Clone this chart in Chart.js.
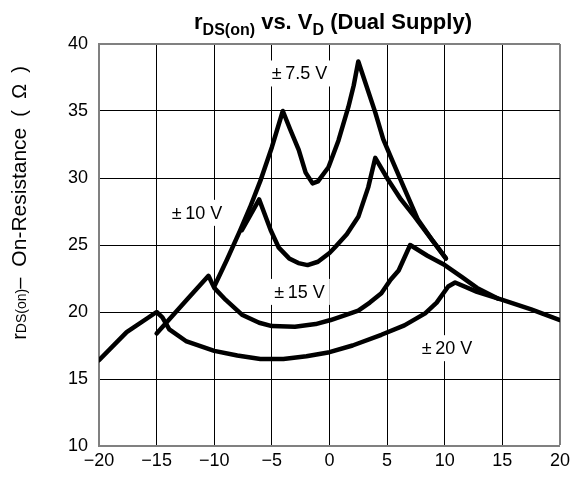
<!DOCTYPE html>
<html>
<head>
<meta charset="utf-8">
<script src="https://cdn.jsdelivr.net/npm/chart.js@4.4.0/dist/chart.umd.min.js"></script>
<style>
html, body { margin: 0; padding: 0; background: #fff; }
</style>
</head>
<body>
<canvas id="myChart" width="574" height="482"></canvas>
<script>
// axis ticks
var xTicks = [-20, -15, -10, -5, 0, 5, 10, 15, 20];
var xTickLabels = ['\u221220', '\u221215', '\u221210', '\u22125', '0', '5', '10', '15', '20'];
var yTicks = [10, 15, 20, 25, 30, 35, 40];

// +-20 V supply
var x20 = [-20, -17.6, -15, -14.5, -13.9, -12.4, -10, -8, -6, -4, -2, 0, 2, 4.5, 6.5, 8.3, 9.3, 10.3, 10.9, 12.8, 15, 17.5, 20];
var y20 = [16.4, 18.5, 20.0, 19.6, 18.7, 17.8, 17.1, 16.75, 16.5, 16.5, 16.7, 17.0, 17.5, 18.3, 19.0, 19.9, 20.7, 21.9, 22.2, 21.5, 20.9, 20.2, 19.4];

// +-15 V supply
var x15 = [-15, -12.4, -10.5, -10, -9, -7.6, -6.1, -5, -3, -1.2, 0.1, 1.5, 2.5, 3.5, 4.5, 5.3, 6, 7, 8.5, 10, 11.5, 12.8, 14.6];
var y15 = [18.4, 20.9, 22.7, 21.8, 20.9, 19.8, 19.2, 18.95, 18.9, 19.1, 19.4, 19.8, 20.1, 20.7, 21.4, 22.4, 23.1, 25.0, 24.2, 23.5, 22.6, 21.8, 21.0];

// +-10 V supply
var x10 = [-7.6, -6.1, -5.1, -4.4, -3.5, -2.7, -1.9, -1, 0, 0.5, 1.5, 2.5, 3.36, 3.97, 5.1, 6.2, 7.4, 8.7, 10.1];
var y10 = [26.1, 28.4, 26.1, 24.8, 24.0, 23.65, 23.5, 23.75, 24.4, 24.85, 25.8, 27.1, 29.3, 31.5, 29.85, 28.4, 27.1, 25.6, 24.0];

// +-7.5 V supply
var x75 = [-10, -8.9, -7.8, -6.9, -5.95, -5.0, -4.05, -3.4, -2.67, -2.07, -1.47, -1.0, -0.09, 0.78, 1.64, 2.1, 2.5, 3.97, 4.66, 5.5, 6.5, 7.67, 8.8, 10.1];
var y75 = [21.9, 23.9, 26.0, 27.8, 29.9, 32.3, 35.0, 33.6, 32.1, 30.4, 29.6, 29.75, 30.8, 32.8, 35.3, 36.9, 38.7, 34.9, 32.9, 31.2, 29.2, 26.9, 25.5, 24.0];

// curve labels
var curveLabels = ['\u00b1\u20097.5 V', '\u00b1\u200910 V', '\u00b1\u200915 V', '\u00b1\u200920 V'];
var labelX = [-2.6, -11.5, -2.6, 10.2];
var labelY = [37.8, 27.4, 21.5, 17.3];

function pts(xs, ys) {
    return xs.map(function (v, i) { return { x: v, y: ys[i] }; });
}

function curve(xs, ys) {
    return {
        data: pts(xs, ys),
        showLine: true,
        borderColor: '#000',
        borderWidth: 4.5,
        pointRadius: 0,
        tension: 0,
        borderJoinStyle: 'round',
        borderCapStyle: 'round',
        fill: false
    };
}

var FONT = '"Liberation Sans", Arial, Helvetica, sans-serif';
Chart.defaults.font.family = FONT;
Chart.defaults.color = '#000';

// curve names on white boxes, under the curves
var curveText = {
    id: 'curveText',
    beforeDatasetsDraw: function (chart) {
        var c = chart.ctx, xs = chart.scales.x, ys = chart.scales.y;
        c.save();
        c.font = '18px ' + FONT;
        c.textAlign = 'center';
        c.textBaseline = 'middle';
        for (var i = 0; i < curveLabels.length; i++) {
            var px = xs.getPixelForValue(labelX[i]);
            var py = ys.getPixelForValue(labelY[i]);
            var w = c.measureText(curveLabels[i]).width;
            c.fillStyle = '#fff';
            c.fillRect(px - w / 2 - 5, py - 13, w + 10, 26);
            c.fillStyle = '#000';
            c.fillText(curveLabels[i], px, py + 1);
        }
        c.restore();
    }
};

function richText(c, parts, x0, y) {
    var total = 0;
    parts.forEach(function (p) { c.font = p[1]; total += c.measureText(p[0]).width; });
    var x = x0 - total / 2;
    parts.forEach(function (p) {
        c.font = p[1];
        c.fillText(p[0], x, y + p[2]);
        x += c.measureText(p[0]).width;
    });
}

var titles = {
    id: 'titles',
    afterDraw: function (chart) {
        var c = chart.ctx;
        c.save();
        c.fillStyle = '#000';
        c.textAlign = 'left';
        c.textBaseline = 'alphabetic';
        var big = 'bold 22px ' + FONT, small = 'bold 16px ' + FONT;
        richText(c, [['r', big, 0], ['DS(on)', small, 6], [' vs. V', big, 0], ['D', small, 6], [' (Dual Supply)', big, 0]],
            333, 29);

        c.translate(26, 203);
        c.rotate(-Math.PI / 2);
        var f20 = '20px ' + FONT;
        richText(c, [['r', f20, 0], ['DS(on)', '14px ' + FONT, 0], ['\u2013  ', f20, 0],
            ['On-Resistance', '21px ' + FONT, 0], ['  (  \u03a9  )', f20, 0]], 0, 0);
        c.restore();
    }
};

function edgeColor(ctx, edge) {
    return ctx.tick && ctx.tick.value === edge ? '#808080' : '#000';
}
function edgeWidth(ctx, edge) {
    return ctx.tick && ctx.tick.value === edge ? 2 : 1;
}

var myChart = new Chart('myChart', {
    type: 'scatter',
    data: {
        datasets: [curve(x20, y20), curve(x15, y15), curve(x10, y10), curve(x75, y75)]
    },
    options: {
        responsive: false,
        devicePixelRatio: 1,
        animation: false,
        layout: { padding: { top: 44, right: 11, left: 0, bottom: 0 } },
        plugins: {
            legend: { display: false },
            tooltip: { enabled: false },
            title: { display: false }
        },
        scales: {
            x: {
                type: 'linear',
                min: -20,
                max: 20,
                afterFit: function (s) { s.height = 36; },
                afterBuildTicks: function (s) { s.ticks = xTicks.map(function (v) { return { value: v }; }); },
                ticks: {
                    font: { size: 18 },
                    color: '#000',
                    padding: 4,
                    maxRotation: 0,
                    callback: function (v) { return xTickLabels[xTicks.indexOf(v)]; }
                },
                grid: {
                    drawTicks: false,
                    color: function (ctx) { return edgeColor(ctx, 20); },
                    lineWidth: function (ctx) { return edgeWidth(ctx, 20); }
                },
                border: { color: '#808080', width: 2 }
            },
            y: {
                type: 'linear',
                min: 10,
                max: 40,
                afterFit: function (s) { s.width = 99; },
                afterBuildTicks: function (s) { s.ticks = yTicks.map(function (v) { return { value: v }; }); },
                ticks: {
                    font: { size: 18 },
                    color: '#000',
                    padding: 11
                },
                grid: {
                    drawTicks: false,
                    color: function (ctx) { return edgeColor(ctx, 40); },
                    lineWidth: function (ctx) { return edgeWidth(ctx, 40); }
                },
                border: { color: '#808080', width: 2 }
            }
        }
    },
    plugins: [curveText, titles]
});
</script>
</body>
</html>
